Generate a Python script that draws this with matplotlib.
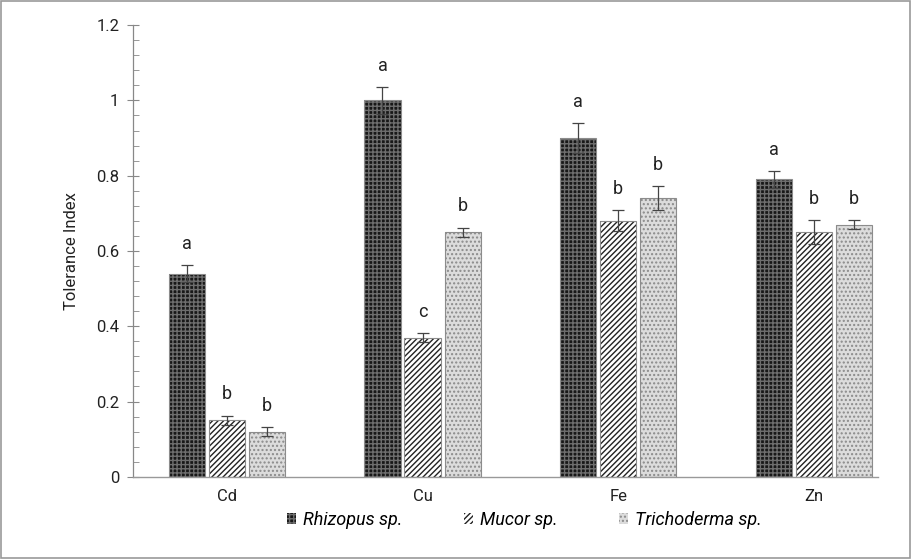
import matplotlib
matplotlib.use("Agg")
import matplotlib.pyplot as plt
import numpy as np
from matplotlib.ticker import MultipleLocator

plt.rcParams["font.family"] = ["Roboto", "DejaVu Sans"]

metals = ["Cd", "Cu", "Fe", "Zn"]
species = ["Rhizopus sp.", "Mucor sp.", "Trichoderma sp."]

rhizopus = [0.54, 1.00, 0.90, 0.79]
mucor = [0.15, 0.37, 0.68, 0.65]
trichoderma = [0.12, 0.65, 0.74, 0.67]

rhizopus_err = [0.022, 0.035, 0.040, 0.022]
mucor_err = [0.012, 0.012, 0.028, 0.032]
trichoderma_err = [0.012, 0.012, 0.032, 0.012]

rhizopus_letters = ["a", "a", "a", "a"]
mucor_letters = ["b", "c", "b", "b"]
trichoderma_letters = ["b", "b", "b", "b"]

fig = plt.figure(figsize=(9.12, 5.59), dpi=100)
ax = fig.add_axes([0.146, 0.147, 0.817, 0.808])

x = np.arange(len(metals))
width = 0.185
offset = 0.205

# face colour, hatch colour, hatch pattern per species
styles = [
    ("#181818", "#6e6e6e", "++++"),
    ("white", "#222222", "//////"),
    ("#dcdcdc", "#8a8a8a", "...."),
]
series = [
    (rhizopus, rhizopus_err, rhizopus_letters),
    (mucor, mucor_err, mucor_letters),
    (trichoderma, trichoderma_err, trichoderma_letters),
]

handles = []
for i, ((vals, errs, letters), (face, hcol, hatch)) in enumerate(zip(series, styles)):
    pos = x + (i - 1) * offset
    bars = ax.bar(pos, vals, width, color=face, edgecolor=hcol, hatch=hatch,
                  linewidth=0, zorder=2, label=species[i])
    # gray outline on top of the hatch
    ax.bar(pos, vals, width, fill=False, edgecolor="#8c8c8c", linewidth=0.8, zorder=3)
    ax.errorbar(pos, vals, yerr=errs, fmt="none", ecolor="#444444",
                elinewidth=0.9, capsize=4, capthick=0.9, zorder=4)
    for p, v, e, t in zip(pos, vals, errs, letters):
        ax.text(p, v + e + 0.033, t, ha="center", va="bottom", fontsize=13, color="#222222")
    handles.append(bars)

ax.set_ylim(0, 1.2)
ax.set_xlim(-0.48, 3.33)
ax.set_xticks(x)
ax.set_xticklabels(metals, fontsize=12, color="#222222")
ax.yaxis.set_major_locator(MultipleLocator(0.2))
ax.yaxis.set_minor_locator(MultipleLocator(0.04))
ax.set_yticks([0, 0.2, 0.4, 0.6, 0.8, 1.0, 1.2])
ax.set_yticklabels(["0", "0.2", "0.4", "0.6", "0.8", "1", "1.2"], fontsize=12, color="#222222")
ax.tick_params(axis="x", length=0, pad=9)
ax.tick_params(axis="y", which="major", direction="inout", length=8, color="#888888", pad=6)
ax.tick_params(axis="y", which="minor", direction="in", length=4, color="#888888")

for s in ["top", "right"]:
    ax.spines[s].set_visible(False)
ax.spines["left"].set_color("#888888")
ax.spines["bottom"].set_color("#999999")
ax.spines["left"].set_linewidth(0.9)
ax.spines["bottom"].set_linewidth(1.0)

ax.set_ylabel("Tolerance Index", fontsize=12, color="#222222", labelpad=12)

leg = fig.legend(handles=handles, labels=species, loc="lower center",
                 bbox_to_anchor=(0.575, 0.025), ncol=3, frameon=False,
                 prop={"style": "italic", "size": 13}, handlelength=0.5,
                 handleheight=0.5, handletextpad=0.4, columnspacing=3.4)

# thin gray frame around the whole figure
fig.patches.append(plt.Rectangle((0.001, 0.002), 0.997, 0.996, transform=fig.transFigure,
                                 fill=False, edgecolor="#999999", linewidth=1.2))

fig.savefig("out.png", dpi=100)
